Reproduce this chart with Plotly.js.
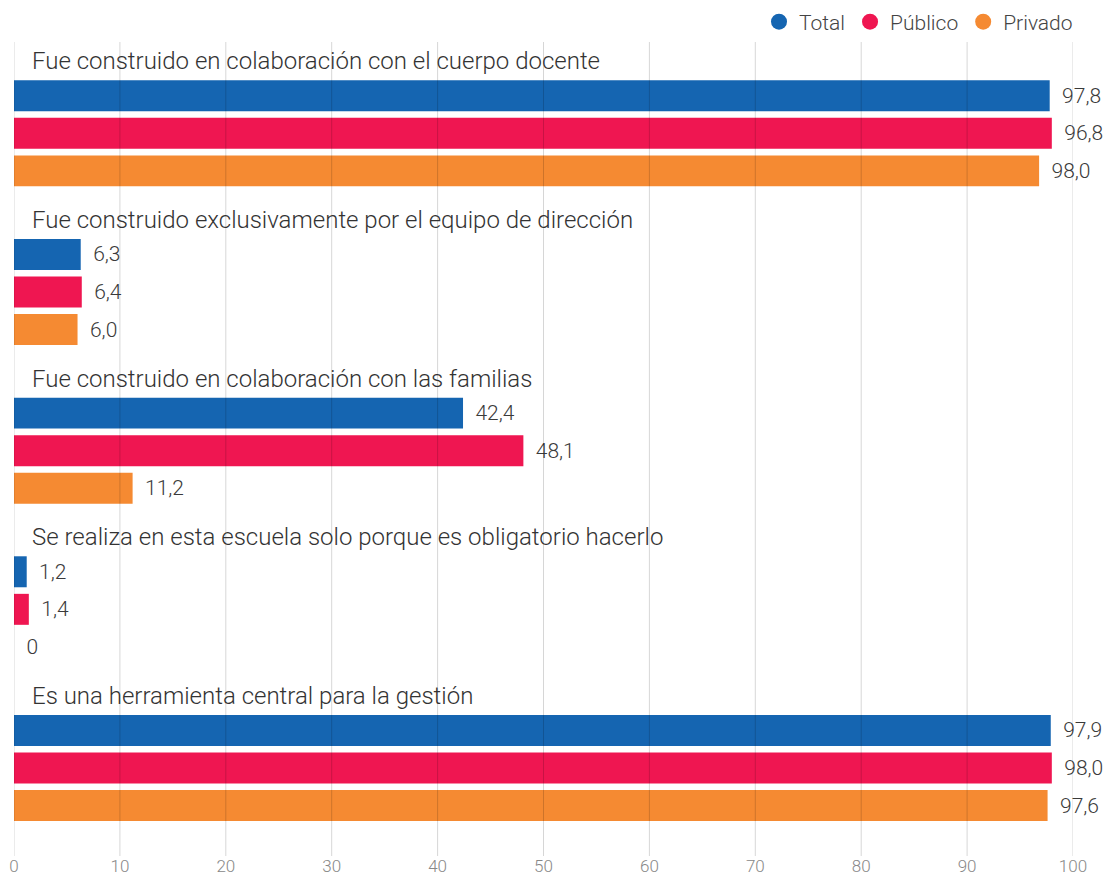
<!DOCTYPE html>
<html>
<head>
<meta charset="utf-8">
<script src="https://cdn.plot.ly/plotly-3.0.1.min.js"></script>
<style>
html,body{margin:0;padding:0;background:#fff;}
#chart{width:1104px;height:877px;}
</style>
</head>
<body>
<div id="chart"></div>
<script>
const categories = [
  'Fue construido en colaboración con el cuerpo docente',
  'Fue construido exclusivamente por el equipo de dirección',
  'Fue construido en colaboración con las familias',
  'Se realiza en esta escuela solo porque es obligatorio hacerlo',
  'Es una herramienta central para la gestión'
];
const seriesNames = ['Total', 'Público', 'Privado'];
const totalValues   = [97.8, 6.3, 42.4, 1.2, 97.9];
const publicoValues = [98.0, 6.4, 48.1, 1.4, 98.0];
const privadoValues = [96.8, 6.0, 11.2, 0, 97.6];
const totalLabels   = ['97,8', '6,3', '42,4', '1,2', '97,9'];
const publicoLabels = ['96,8', '6,4', '48,1', '1,4', '98,0'];
const privadoLabels = ['98,0', '6,0', '11,2', '0', '97,6'];
const tickValues = [0, 10, 20, 30, 40, 50, 60, 70, 80, 90, 100];

const colors = ['#1565b1', '#ef1651', '#f58a32'];
const FONT = 'Roboto, "Noto Sans", sans-serif';
const pad = '\u00a0\u2009';

const valuesList = [totalValues, publicoValues, privadoValues];
const labelsList = [totalLabels, publicoLabels, privadoLabels];

const traces = [];
seriesNames.forEach((name, i) => {
  traces.push({
    type: 'bar',
    orientation: 'h',
    name: name,
    x: valuesList[i],
    y: categories,
    text: labelsList[i].map(t => pad + t),
    textposition: 'outside',
    constraintext: 'none',
    cliponaxis: false,
    textfont: {family: FONT, size: 21, color: '#3a3a3a', weight: 300},
    marker: {color: colors[i]},
    showlegend: false,
    hoverinfo: 'x+name'
  });
});
seriesNames.forEach((name, i) => {
  traces.push({
    type: 'scatter',
    mode: 'markers',
    name: name,
    x: [null],
    y: [null],
    marker: {color: colors[i], size: 16, symbol: 'circle'},
    showlegend: true,
    hoverinfo: 'skip'
  });
});

const marginT = 54, marginB = 21;
const plotH = 877 - marginT - marginB;
const plotW = 1104 - 14 - 31;
const shapes = tickValues.map(v => ({
  type: 'line',
  xref: 'x', yref: 'paper',
  x0: v, x1: v, y0: 0, y1: 1 + 12 / plotH,
  line: {color: 'rgba(0,0,0,0.16)', width: 1},
  layer: 'above'
}));

const annotations = categories.map(c => ({
  xref: 'x', yref: 'y',
  x: 0, y: c,
  text: c,
  showarrow: false,
  xanchor: 'left', yanchor: 'middle',
  xshift: 16, yshift: 72,
  font: {family: FONT, size: 24, color: '#333', weight: 300}
}));

const layout = {
  width: 1104, height: 877,
  margin: {l: 14, r: 31, t: marginT, b: marginB, autoexpand: false},
  paper_bgcolor: '#fff', plot_bgcolor: '#fff',
  barmode: 'group',
  bargap: 0.29,
  bargroupgap: 0.175,
  font: {family: FONT, color: '#444'},
  xaxis: {
    range: [0, 100],
    tickvals: tickValues,
    showgrid: false,
    zeroline: false,
    showline: false,
    ticks: '',
    ticklabelstandoff: -2,
    tickfont: {family: FONT, size: 17, color: '#888', weight: 300},
    fixedrange: true
  },
  yaxis: {
    type: 'category',
    autorange: 'reversed',
    showticklabels: false,
    showgrid: false,
    zeroline: false,
    showline: false,
    ticks: '',
    fixedrange: true
  },
  legend: {
    orientation: 'h',
    x: 1 + 5 / plotW, xanchor: 'right',
    y: 1 + 32 / plotH, yanchor: 'middle',
    font: {family: FONT, size: 21, color: '#444', weight: 300},
    itemwidth: 30,
    bgcolor: 'rgba(0,0,0,0)'
  },
  shapes: shapes,
  annotations: annotations
};

Plotly.newPlot('chart', traces, layout, {displayModeBar: false, staticPlot: false});
</script>
</body>
</html>
